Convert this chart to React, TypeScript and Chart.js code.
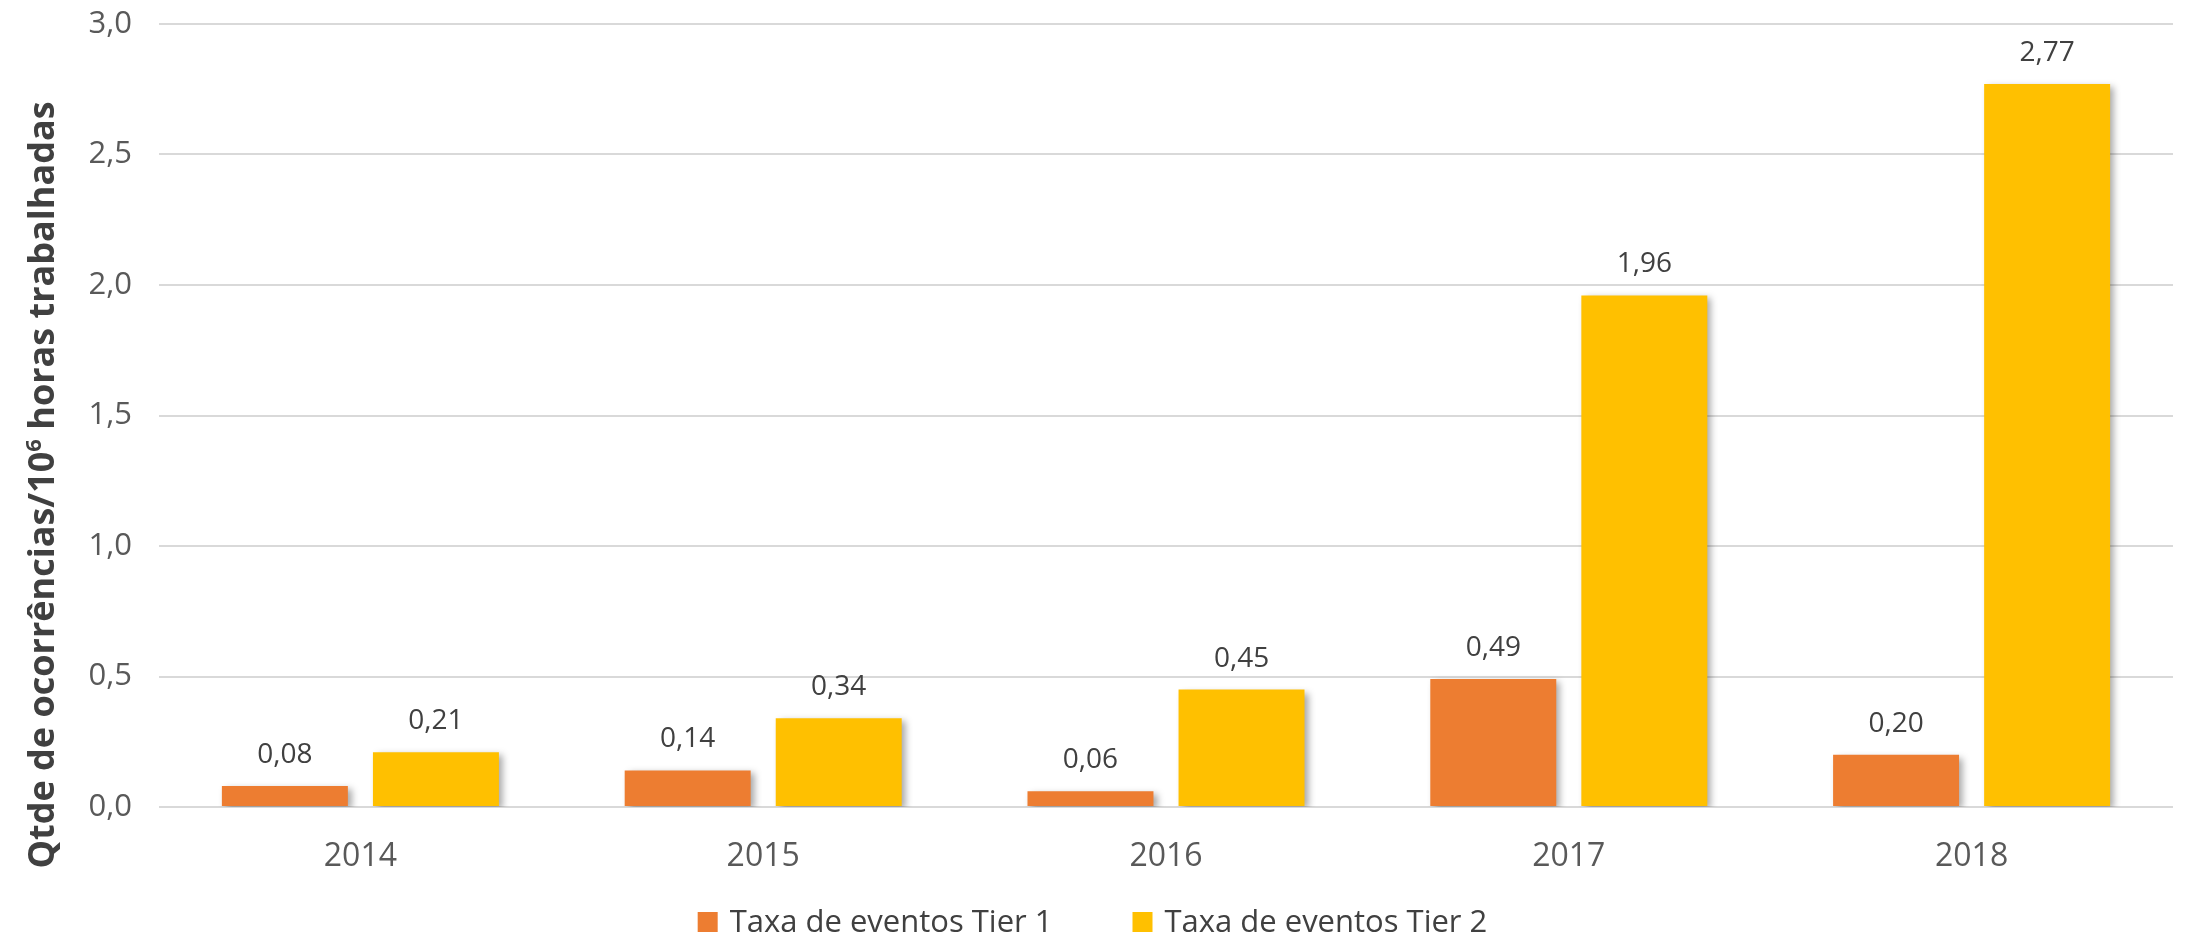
import React, { useEffect, useRef } from "react";
import { Chart, registerables } from "chart.js";

Chart.register(...registerables);

const categories = ["2014", "2015", "2016", "2017", "2018"];
const tier1Values = [0.08, 0.14, 0.06, 0.49, 0.2];
const tier2Values = [0.21, 0.34, 0.45, 1.96, 2.77];
const seriesLabels = ["Taxa de eventos Tier 1", "Taxa de eventos Tier 2"];
const seriesColors = ["#ED7D31", "#FFC000"];
const yTitleMain = "Qtde de ocorrências/10";
const yTitleSup = "6";
const yTitleRest = " horas trabalhadas";

const W = 2185;
const H = 941;
const fmt = (v: number, d: number) => v.toFixed(d).replace(".", ",");

const shadowPlugin = {
  id: "barShadow",
  beforeDatasetsDraw(chart: any) {
    const ctx = chart.ctx;
    ctx.save();
    ctx.shadowColor = "rgba(0,0,0,0.35)";
    ctx.shadowBlur = 7;
    ctx.shadowOffsetX = 4;
    ctx.shadowOffsetY = 3;
  },
  afterDatasetsDraw(chart: any) {
    chart.ctx.restore();
  },
};

const labelsPlugin = {
  id: "valueLabels",
  afterDatasetsDraw(chart: any) {
    const ctx = chart.ctx;
    ctx.save();
    ctx.font = "28px 'Open Sans'";
    ctx.fillStyle = "#404040";
    ctx.textAlign = "center";
    ctx.textBaseline = "middle";
    chart.data.datasets.forEach((ds: any, i: number) => {
      const meta = chart.getDatasetMeta(i);
      meta.data.forEach((bar: any, j: number) => {
        ctx.fillText(fmt(ds.data[j], 2), bar.x, bar.y - 31);
      });
    });
    ctx.restore();
  },
};

const decorPlugin = {
  id: "decor",
  afterDraw(chart: any) {
    const ctx = chart.ctx;
    // Y axis title
    ctx.save();
    ctx.fillStyle = "#404040";
    ctx.textBaseline = "middle";
    const mainFont = "bold 36px 'Liberation Sans Narrow', 'Open Sans'";
    const supFont = "bold 22px 'Liberation Sans Narrow', 'Open Sans'";
    ctx.font = mainFont;
    const w1 = ctx.measureText(yTitleMain).width;
    const w3 = ctx.measureText(yTitleRest).width;
    ctx.font = supFont;
    const w2 = ctx.measureText(yTitleSup).width;
    const total = w1 + w2 + w3;
    ctx.translate(44, 485);
    ctx.rotate(-Math.PI / 2);
    let x = -total / 2;
    ctx.textAlign = "left";
    ctx.font = mainFont;
    ctx.fillText(yTitleMain, x, 0);
    x += w1;
    ctx.font = supFont;
    ctx.fillText(yTitleSup, x, -9);
    x += w2;
    ctx.font = mainFont;
    ctx.fillText(yTitleRest, x, 0);
    ctx.restore();

    // Legend
    ctx.save();
    const lf = "31px 'Liberation Sans Narrow', 'Open Sans'";
    ctx.font = lf;
    const box = 20;
    const gap = 12;
    const itemGap = 80;
    const widths = seriesLabels.map((t) => ctx.measureText(t).width);
    const full = widths.reduce((a, b) => a + b, 0) + seriesLabels.length * (box + gap) + itemGap * (seriesLabels.length - 1);
    let lx = W / 2 - full / 2;
    const ly = 922;
    ctx.textBaseline = "middle";
    ctx.textAlign = "left";
    seriesLabels.forEach((t, i) => {
      ctx.fillStyle = seriesColors[i];
      ctx.fillRect(lx, ly - box / 2, box, box);
      lx += box + gap;
      ctx.fillStyle = "#404040";
      ctx.fillText(t, lx, ly + 1);
      lx += widths[i] + itemGap;
    });
    ctx.restore();
  },
};

export default function App() {
  const ref = useRef<HTMLCanvasElement | null>(null);
  useEffect(() => {
    if (!ref.current) return;
    const chart = new Chart(ref.current, {
      type: "bar",
      data: {
        labels: categories,
        datasets: [
          {
            label: seriesLabels[0],
            data: tier1Values,
            backgroundColor: seriesColors[0],
            categoryPercentage: 0.75,
            barPercentage: 0.834,
          },
          {
            label: seriesLabels[1],
            data: tier2Values,
            backgroundColor: seriesColors[1],
            categoryPercentage: 0.75,
            barPercentage: 0.834,
          },
        ],
      },
      options: {
        responsive: false,
        animation: false,
        devicePixelRatio: 1,
        layout: { padding: { top: 24, right: 12, left: 0, bottom: 0 } },
        plugins: {
          legend: { display: false },
          tooltip: { enabled: false },
        },
        scales: {
          x: {
            grid: { display: false, drawTicks: false },
            border: { display: false },
            ticks: {
              font: { family: "'Open Sans'", size: 32 },
              color: "#595959",
              padding: 31,
            },
            afterFit: (s: any) => {
              s.height = 134;
              s.paddingLeft = 0;
              s.paddingRight = 0;
            },
          },
          y: {
            min: 0,
            max: 3,
            grid: { color: "#d9d9d9", lineWidth: 2, drawTicks: false },
            border: { display: false },
            ticks: {
              stepSize: 0.5,
              font: { family: "'Open Sans'", size: 31 },
              color: "#595959",
              padding: 27,
              callback: (v: any) => fmt(Number(v), 1),
            },
            afterFit: (s: any) => {
              s.width = 159;
              s.paddingTop = 0;
              s.paddingBottom = 0;
            },
          },
        },
      },
      plugins: [shadowPlugin, labelsPlugin, decorPlugin],
    });
    return () => chart.destroy();
  }, []);
  return (
    <div style={{ position: "fixed", left: 0, top: 0, width: W, height: H, background: "#fff" }}>
      <canvas ref={ref} width={W} height={H} style={{ width: W, height: H, display: "block" }} />
    </div>
  );
}
